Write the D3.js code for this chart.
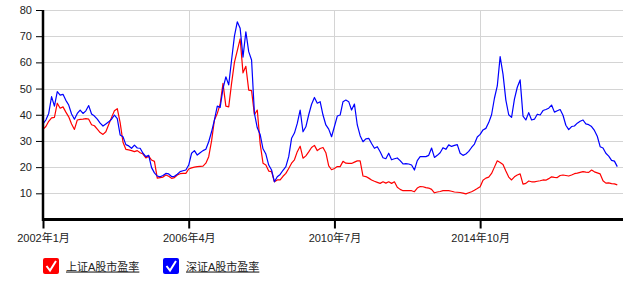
<!DOCTYPE html>
<html>
<head>
<meta charset="utf-8">
<script src="https://cdn.jsdelivr.net/npm/d3@7"></script>
<style>
  body { margin: 0; background: #fff; }
  svg text { font-family: Arial, "Liberation Sans", "Noto Sans CJK SC", sans-serif; fill: #222; }
</style>
</head>
<body>
<div id="chart"></div>
<script>
// monthly P/E ratios, 2002-01 .. 2018-10
const startYear = 2002;
const seriesNames = [`上证A股市盈率`, `深证A股市盈率`];
const seriesColors = [`#ff0000`, `#0000ff`];

const shanghai = [
  34.4, 35.5, 37.5, 38.8, 39.0, 44.4, 42.5, 43.0, 41.0, 39.2, 36.5, 34.4,
  38.0, 38.2, 38.3, 38.5, 38.3, 36.2, 35.8, 34.5, 33.2, 32.5, 33.5, 36.3,
  39.0, 41.5, 42.3, 37.0, 29.5, 26.8, 26.6, 26.3, 25.9, 26.3, 25.5, 25.0,
  23.5, 24.2, 22.7, 22.2, 15.8, 16.0, 16.2, 17.0, 16.5, 15.7, 16.0, 17.0,
  17.5, 17.6, 17.6, 19.3, 19.7, 20.0, 20.2, 20.3, 20.4, 21.5, 24.0, 30.0,
  38.0, 40.5, 44.0, 52.0, 43.3, 43.0, 52.0, 60.0, 64.5, 69.0, 56.0, 58.5,
  49.4, 49.2, 40.0, 41.8, 29.0, 21.5, 20.8, 18.5, 18.3, 14.4, 15.1, 15.1,
  16.5, 17.6, 19.5, 21.5, 22.8, 25.9, 28.0, 23.4, 24.3, 25.8, 27.5, 28.3,
  26.3, 27.1, 27.5, 25.5, 20.5, 19.0, 19.5, 20.2, 20.2, 22.2, 21.5, 21.4,
  21.4, 21.9, 22.4, 22.4, 16.6, 16.4, 15.8, 15.1, 14.6, 14.2, 13.8, 14.4,
  13.9, 14.4, 13.8, 14.4, 12.3, 11.5, 11.0, 11.0, 11.0, 11.0, 10.6, 12.0,
  12.6, 12.5, 12.2, 12.0, 11.5, 10.2, 10.5, 10.7, 11.0, 11.0, 11.0, 10.8,
  10.5, 10.4, 10.3, 10.1, 9.8, 10.2, 10.6, 11.2, 11.8, 12.5, 15.0, 15.8,
  16.2, 17.6, 20.0, 22.4, 21.8, 21.0, 18.5, 16.2, 15.1, 16.3, 17.0, 17.4,
  13.5, 13.8, 14.7, 14.4, 14.4, 14.6, 14.8, 15.1, 15.0, 15.6, 16.3, 16.1,
  16.0, 16.8, 17.0, 16.8, 16.6, 17.0, 17.5, 17.7, 18.0, 18.3, 18.1, 18.0,
  18.9, 18.2, 17.8, 17.4, 14.8, 13.9, 14.0, 13.7, 13.6, 13.2
];

const shenzhen = [
  36.5, 38.0, 40.5, 46.9, 43.3, 48.8, 47.5, 47.8, 45.5, 43.7, 40.3, 38.3,
  40.5, 41.8, 40.5, 41.5, 43.5, 40.3, 39.5, 38.3, 36.8, 35.7, 36.5, 37.3,
  38.3, 39.9, 38.5, 32.3, 31.6, 28.6, 28.1, 27.2, 28.4, 27.3, 27.2, 25.3,
  24.0, 24.5, 19.8, 17.8, 16.6, 16.3, 16.8, 17.6, 17.4, 16.4, 16.5, 17.3,
  18.3, 18.6, 18.9, 20.8, 25.3, 26.3, 24.6, 25.5, 26.3, 26.8, 29.7, 33.5,
  38.0, 43.3, 42.8, 50.0, 54.5, 51.4, 60.9, 70.0, 75.5, 73.0, 62.0, 71.7,
  64.1, 60.9, 40.5, 35.0, 32.5, 27.0, 25.0, 20.8, 18.9, 14.4, 16.3, 17.2,
  18.8, 20.2, 24.0, 31.0, 33.0, 36.7, 41.8, 33.5, 35.4, 40.0, 44.0, 46.6,
  44.4, 45.0, 39.9, 36.1, 34.5, 31.6, 35.5, 39.5, 39.9, 45.0, 45.6, 45.0,
  41.8, 44.1, 36.1, 32.0, 29.7, 30.8, 31.0, 29.0, 27.2, 27.8, 25.9, 23.6,
  23.2, 25.3, 22.8, 23.2, 23.5, 22.5, 21.2, 21.3, 21.2, 20.8, 18.9, 22.5,
  24.0, 24.0, 24.0, 24.5, 27.3, 23.7, 24.5, 25.5, 27.4, 26.8, 28.5, 27.9,
  28.3, 28.6, 25.3, 24.5, 25.0, 26.0, 27.5, 28.8, 31.5, 32.5, 34.2, 34.8,
  37.0, 40.0, 46.3, 51.0, 62.2, 55.5, 45.6, 40.0, 39.0, 46.0, 50.5, 53.3,
  39.5, 38.0, 40.8, 38.0, 38.3, 40.2, 39.9, 41.6, 42.0, 42.5, 43.7, 41.0,
  41.5, 42.0, 39.8, 36.0, 34.3, 35.5, 35.7, 36.8, 37.5, 38.0, 36.5, 36.2,
  35.5, 34.0, 31.8, 27.8, 27.3, 25.3, 24.2, 22.6, 22.3, 20.2
];

const yTicks = [10, 20, 30, 40, 50, 60, 70, 80];
const xTickLabels = [`2002年1月`, `2006年4月`, `2010年7月`, `2014年10月`];
const xTickStep = 51; // months between labels

const width = 639;
const height = 284;
const margin = { top: 10, right: 16, bottom: 64, left: 43 };

const svg = d3.select(`#chart`).append(`svg`)
    .attr(`width`, width)
    .attr(`height`, height);

const x = d3.scaleLinear()
  .domain([0, 203])
  .range([margin.left, width - margin.right]);

const y = d3.scaleLinear()
  .domain([0, 80])
  .range([height - margin.bottom - 0.5, margin.top]);

const xTicks = xTickLabels.map((d, i) => i * xTickStep);

// grid
svg.append(`g`)
  .selectAll(`line`)
  .data(yTicks)
  .enter().append(`line`)
    .attr(`x1`, x(0))
    .attr(`x2`, x(203))
    .attr(`y1`, (d) => Math.round(y(d)) + 0.5)
    .attr(`y2`, (d) => Math.round(y(d)) + 0.5)
    .attr(`stroke`, `#d4d4d4`)
    .attr(`stroke-width`, 1);

svg.append(`g`)
  .selectAll(`line`)
  .data(xTicks.slice(1))
  .enter().append(`line`)
    .attr(`x1`, (d) => Math.round(x(d)) + 0.5)
    .attr(`x2`, (d) => Math.round(x(d)) + 0.5)
    .attr(`y1`, y(80))
    .attr(`y2`, y(0))
    .attr(`stroke`, `#d4d4d4`)
    .attr(`stroke-width`, 1);

// lines
const line = d3.line()
  .x((d, i) => x(i))
  .y((d) => y(d));

[shanghai, shenzhen].forEach((values, i) => {
  svg.append(`path`)
    .datum(values)
    .attr(`fill`, `none`)
    .attr(`stroke`, seriesColors[i])
    .attr(`stroke-width`, 1.2)
    .attr(`stroke-linejoin`, `round`)
    .attr(`d`, line);
});

// y axis
const yAxis = svg.append(`g`)
  .attr(`transform`, `translate(${margin.left},0)`)
  .call(d3.axisLeft(y).tickValues(yTicks).tickSize(7).tickPadding(4));
yAxis.select(`.domain`).remove();
yAxis.selectAll(`line`).attr(`stroke`, `#000`).attr(`stroke-width`, 1);
yAxis.selectAll(`text`)
  .style(`font-size`, `11px`)
  .attr(`fill`, `#222`);

// x axis
const xAxis = svg.append(`g`)
  .attr(`transform`, `translate(0,${y(0)})`)
  .call(d3.axisBottom(x).tickValues(xTicks).tickSize(9).tickPadding(6)
    .tickFormat((d, i) => xTickLabels[i]));
xAxis.select(`.domain`).remove();
xAxis.selectAll(`line`).attr(`stroke`, `#000`).attr(`stroke-width`, 2);
xAxis.selectAll(`text`)
  .style(`font-size`, `11px`)
  .attr(`fill`, `#222`);

// axis lines
svg.append(`line`)
  .attr(`x1`, x(0)).attr(`x2`, x(203))
  .attr(`y1`, y(0)).attr(`y2`, y(0))
  .attr(`stroke`, `#000`).attr(`stroke-width`, 3);
svg.append(`line`)
  .attr(`x1`, x(0)).attr(`x2`, x(0))
  .attr(`y1`, y(80)).attr(`y2`, y(0) + 1.5)
  .attr(`stroke`, `#000`).attr(`stroke-width`, 2.5);

// legend
const legendX = [43, 163];
const legend = svg.append(`g`)
  .selectAll(`g`)
  .data(seriesNames)
  .enter().append(`g`)
    .attr(`transform`, (d, i) => `translate(${legendX[i]},258)`);

legend.append(`rect`)
  .attr(`width`, 16)
  .attr(`height`, 16)
  .attr(`rx`, 2)
  .attr(`fill`, (d, i) => seriesColors[i]);

legend.append(`path`)
  .attr(`d`, `M3.5,8 L7,12.5 L13,3`)
  .attr(`fill`, `none`)
  .attr(`stroke`, `#fff`)
  .attr(`stroke-width`, 2);

legend.append(`text`)
  .attr(`x`, 23)
  .attr(`y`, 12.5)
  .style(`font-size`, `11px`)
  .style(`text-decoration`, `underline`)
  .text((d) => d);
</script>
</body>
</html>
